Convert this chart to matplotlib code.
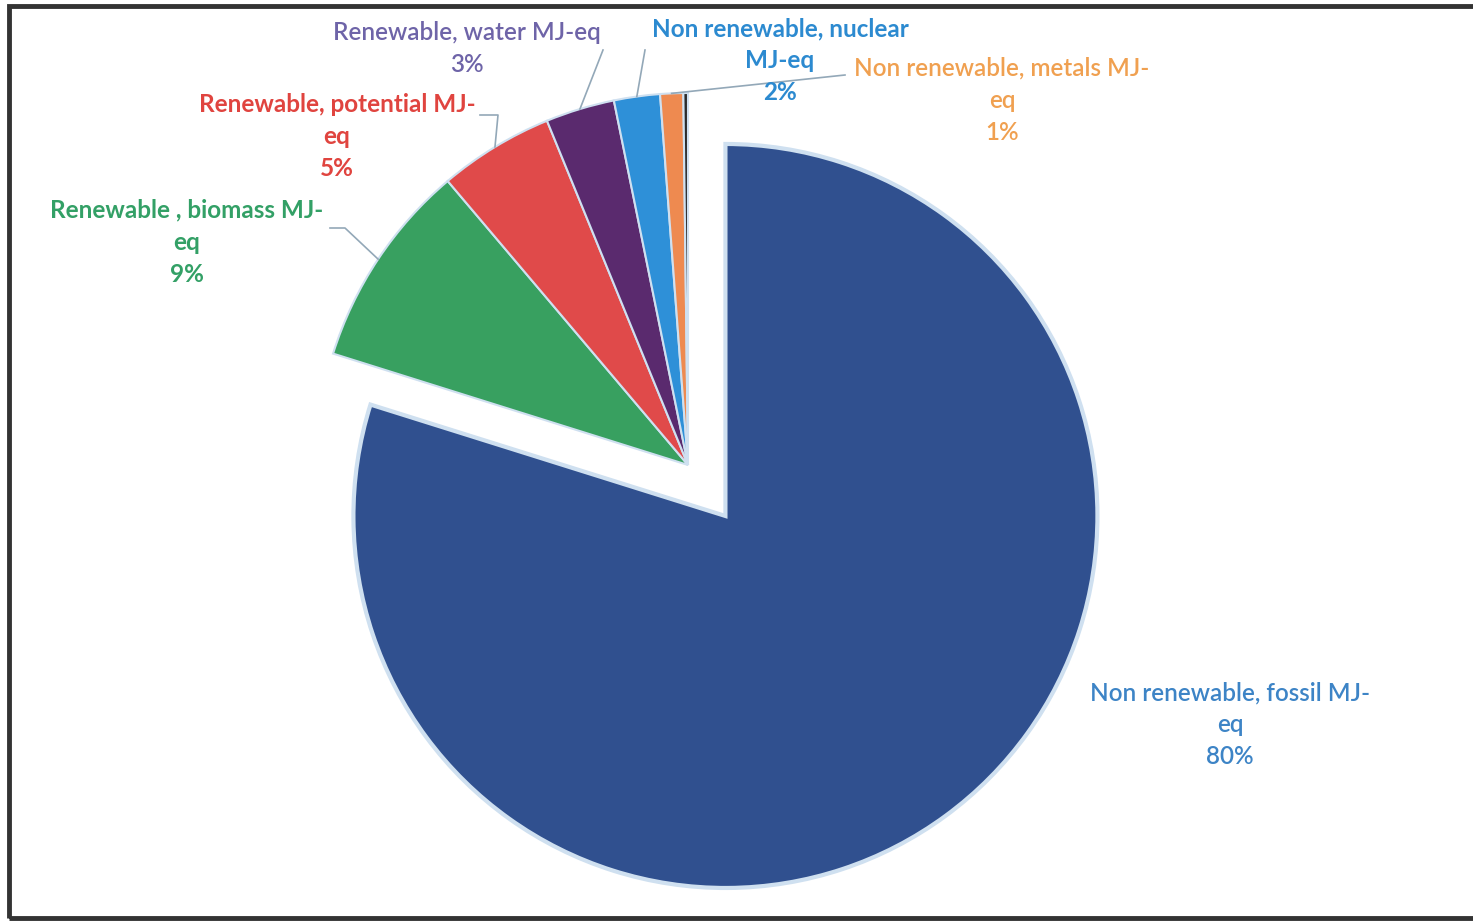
import numpy as np
import matplotlib.pyplot as plt
from matplotlib.patches import Rectangle

# data
categories = ['Non renewable, fossil MJ-eq', 'Renewable , biomass MJ-eq', 'Renewable, potential MJ-eq',
              'Renewable, water MJ-eq', 'Non renewable, nuclear MJ-eq', 'Non renewable, metals MJ-eq', '']
shares = [80, 9, 5, 3, 2, 1, 0.2]
label_texts = ['Non renewable, fossil MJ-\neq', 'Renewable , biomass MJ-\neq', 'Renewable, potential MJ-\neq',
               'Renewable, water MJ-eq', 'Non renewable, nuclear\nMJ-eq', 'Non renewable, metals MJ-\neq', '']

wedge_colors = ['#30508F', '#38A060', '#E04A4A', '#5A2A6E', '#2E90D8', '#EE8A50', '#2b2b2b']
text_colors = ['#3D84C6', '#33A066', '#E0443F', '#6E64A8', '#2C8AD0', '#F0A050', '#000000']
weights = ['semibold', 'bold', 'bold', 'semibold', 'bold', 'semibold', 'normal']

W, H = 1473, 923
fig = plt.figure(figsize=(W / 100, H / 100), dpi=100)
ax = fig.add_axes([0, 0, 1, 1])

cx, cy, r = 688, H - 465, 372
explode = [0.17 * r, 0, 0, 0, 0, 0, 0]  # pie explode is in data units
wedges, _ = ax.pie(shares, explode=explode, colors=wedge_colors, startangle=90, counterclock=False,
                   center=(cx, cy), radius=r, frame=True,
                   wedgeprops=dict(edgecolor='#cfe0f0', linewidth=1.5))
wedges[0].set_linewidth(3)
ax.set_xlim(0, W)
ax.set_ylim(0, H)
ax.axis('off')

# label positions (image pixel coords, centre of the block) and leader line ends
label_pos = [(1230, 725), (187, 242), (337, 137), (467, 49), (780, 61), (1002, 100), None]
line_ends = [None, [(345, 228), (330, 228)], [(498, 115), (480, 115)], [(603, 50)], [(645, 50)],
             [(845, 75)], None]
line_gap = 32

for i, w in enumerate(wedges):
    if label_pos[i] is None:
        continue
    lx, ly = label_pos[i]
    lines = f"{label_texts[i]}\n{shares[i]:.0f}%".split('\n')
    y0 = ly - line_gap * (len(lines) - 1) / 2
    # one text per line so the label boxes hug the glyphs
    for k, line in enumerate(lines):
        ax.text(lx, H - (y0 + k * line_gap), line, ha='center', va='center',
                color=text_colors[i], fontsize=17.5, fontweight=weights[i], family='Lato')
    if line_ends[i]:
        mid = np.deg2rad((w.theta1 + w.theta2) / 2)
        xs = [cx + r * np.cos(mid)] + [p[0] for p in line_ends[i]]
        ys = [cy + r * np.sin(mid)] + [H - p[1] for p in line_ends[i]]
        ax.plot(xs, ys, color='#93a8b8', lw=1.2)

# frame
fig.patches.append(Rectangle((9 / W, 1 - 918 / H), 1.2, (918 - 6) / H, transform=fig.transFigure,
                             fill=False, edgecolor='#333333', linewidth=3.5))

fig.savefig('out.png', dpi=100, facecolor='white')
